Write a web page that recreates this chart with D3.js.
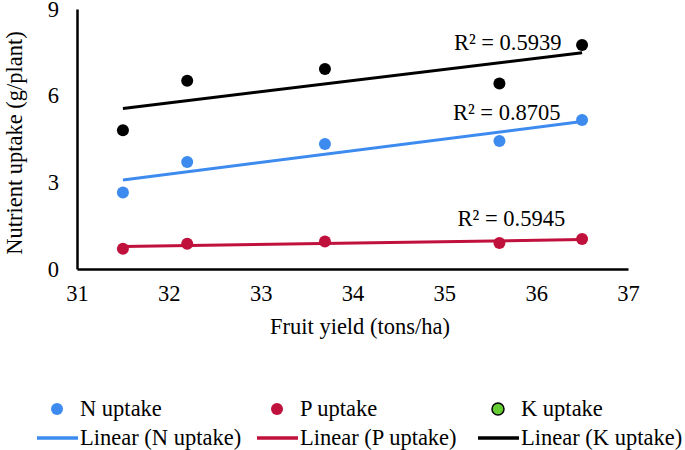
<!DOCTYPE html>
<html>
<head>
<meta charset="utf-8">
<script src="https://cdn.jsdelivr.net/npm/d3@7"></script>
<style>
  body { margin: 0; background: #fff; }
  svg text { font-family: "Liberation Serif", "Times New Roman", serif; fill: #000; }
</style>
</head>
<body>
<svg id="chart" width="685" height="450" font-family="Liberation Serif, serif"></svg>
<script>
// fruit yield (tons/ha) for each sample
var yieldX = [31.5, 32.2, 33.7, 35.6, 36.5];

// nutrient uptake (g/plant)
var nUptake = [2.65, 3.70, 4.33, 4.43, 5.16];
var pUptake = [0.70, 0.87, 0.95, 0.90, 1.04];
var kUptake = [4.80, 6.52, 6.92, 6.42, 7.75];

var seriesNames = ['N uptake', 'P uptake', 'K uptake'];
var r2Labels = ['R² = 0.8705', 'R² = 0.5945', 'R² = 0.5939'];
// where each R² label sits, in data units [x, y]
var r2At = [[35.68, 5.16], [35.73, 1.49], [35.69, 7.58]];

var xTicks = [31, 32, 33, 34, 35, 36, 37];
var yTicks = [0, 3, 6, 9];

var colors = ['#3d8bef', '#c0103c', '#000000'];
var legendMarkerColors = ['#3d8bef', '#c0103c', '#66cc33'];

var fontSize = '22.5px';

var svg = d3.select('#chart');

var xScale = d3.scaleLinear().domain([31, 37]).range([77, 628]);
var yScale = d3.scaleLinear().domain([0, 9]).range([269, 9]);

// least squares fit
function fit(xs, ys) {
  var mx = d3.mean(xs), my = d3.mean(ys);
  var sxy = d3.sum(xs, (x, i) => (x - mx) * (ys[i] - my));
  var sxx = d3.sum(xs, x => (x - mx) * (x - mx));
  var b = sxy / sxx;
  return x => my + b * (x - mx);
}

var allSeries = [nUptake, pUptake, kUptake];

// axes
var xAxis = d3.axisBottom(xScale).tickValues(xTicks).tickFormat(d3.format('d')).tickSize(0).tickPadding(16);
var yAxis = d3.axisLeft(yScale).tickValues(yTicks).tickFormat(d3.format('d')).tickSize(0).tickPadding(18);

var gx = svg.append('g').attr('transform', 'translate(0,269)').call(xAxis);
var gy = svg.append('g').attr('transform', 'translate(77,0)').call(yAxis);
[gx, gy].forEach(g => {
  g.attr('font-family', null).attr('font-size', null);
  g.select('.domain').attr('stroke', '#000').attr('stroke-width', 2.5);
  g.selectAll('text').style('font-size', fontSize);
});

// trendlines first, then points on top
var line = d3.line().x(d => xScale(d[0])).y(d => yScale(d[1]));

allSeries.forEach((ys, i) => {
  var f = fit(yieldX, ys);
  var x0 = d3.min(yieldX), x1 = d3.max(yieldX);
  svg.append('path')
    .datum([[x0, f(x0)], [x1, f(x1)]])
    .attr('d', line)
    .attr('fill', 'none')
    .attr('stroke', colors[i])
    .attr('stroke-width', 3);
});

allSeries.forEach((ys, i) => {
  svg.append('g').selectAll('circle')
    .data(ys)
    .join('circle')
    .attr('cx', (d, j) => xScale(yieldX[j]))
    .attr('cy', d => yScale(d))
    .attr('r', 6)
    .attr('fill', colors[i]);
});

// R² labels
svg.append('g').selectAll('text')
  .data(r2Labels)
  .join('text')
  .attr('x', (d, i) => xScale(r2At[i][0]))
  .attr('y', (d, i) => yScale(r2At[i][1]))
  .attr('text-anchor', 'middle')
  .style('font-size', fontSize)
  .text(d => d);

// axis titles
svg.append('text')
  .attr('x', 360).attr('y', 334)
  .attr('text-anchor', 'middle')
  .style('font-size', fontSize)
  .text('Fruit yield (tons/ha)');

svg.append('text')
  .attr('transform', 'translate(22,143) rotate(-90)')
  .attr('text-anchor', 'middle')
  .style('font-size', fontSize)
  .text('Nutrient uptake (g/plant)');

// legend
var legendX = [37, 257, 478];
var legend = svg.append('g');
seriesNames.forEach((name, i) => {
  var lx = legendX[i];
  legend.append('circle')
    .attr('cx', lx + 20).attr('cy', 409).attr('r', 6)
    .attr('fill', legendMarkerColors[i])
    .attr('stroke', i === 2 ? '#000' : 'none')
    .attr('stroke-width', 1.5);
  legend.append('text')
    .attr('x', lx + 43).attr('y', 416)
    .style('font-size', fontSize)
    .text(name);
  legend.append('line')
    .attr('x1', lx).attr('x2', lx + 41)
    .attr('y1', 438).attr('y2', 438)
    .attr('stroke', colors[i]).attr('stroke-width', 3.5);
  legend.append('text')
    .attr('x', lx + 43).attr('y', 445)
    .style('font-size', fontSize)
    .text('Linear (' + name + ')');
});
</script>
</body>
</html>
